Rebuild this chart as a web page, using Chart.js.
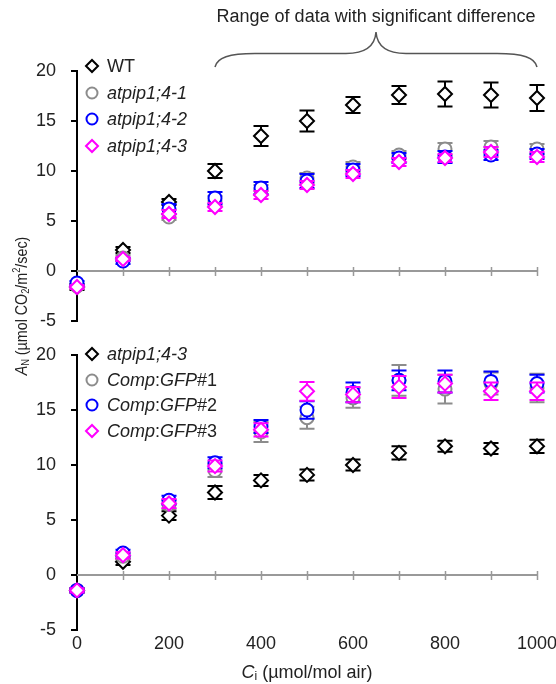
<!DOCTYPE html>
<html><head><meta charset="utf-8">
<script src="https://cdn.jsdelivr.net/npm/chart.js@4.4.1/dist/chart.umd.min.js"></script>
<style>
html,body{margin:0;padding:0;background:#fff;}
#wrap{position:relative;width:556px;height:684px;overflow:hidden;}
#wrap canvas{position:absolute;left:0;top:0;}
</style></head><body>
<div id="wrap"><canvas id="cTop"></canvas><canvas id="cBot"></canvas></div>
<script>
// ---- data ----
const ciValues = [0,100,200,300,400,500,600,700,800,900,1000];
const xTickStep = 200;
const yTickStep = 5;
const significantRange = [300, 1000];
const headerText = 'Range of data with significant difference';

const topLabels = ['WT','atpip1;4-1','atpip1;4-2','atpip1;4-3'];
const wtMean  = [-1.6,2.1,6.9,10.0,13.5,15.0,16.6,17.6,17.7,17.6,17.3];
const wtErr   = [0.3,0.3,0.3,0.7,1.0,1.05,0.8,0.9,1.25,1.25,1.3];
const l41Mean = [-1.5,1.3,5.4,7.0,8.1,9.3,10.4,11.6,12.2,12.4,12.2];
const l41Err  = [0.2,0.3,0.3,0.5,0.5,0.5,0.5,0.4,0.6,0.6,0.5];
const l42Mean = [-1.2,1.0,6.2,7.3,8.3,9.0,10.1,11.3,11.4,11.6,11.7];
const l42Err  = [0.2,0.3,0.5,0.6,0.6,0.7,0.6,0.5,0.6,0.5,0.5];
const l43Mean = [-1.6,1.2,5.7,6.4,7.6,8.6,9.7,10.9,11.3,11.9,11.4];
const l43Err  = [0.2,0.2,0.4,0.4,0.4,0.4,0.4,0.4,0.4,0.5,0.5];

const botLabels = ['atpip1;4-3','Comp:GFP#1','Comp:GFP#2','Comp:GFP#3'];
const mutMean = [-1.4,1.2,5.4,7.5,8.6,9.1,10.0,11.1,11.7,11.5,11.7];
const mutErr  = [0.2,0.3,0.4,0.6,0.5,0.5,0.5,0.6,0.5,0.5,0.6];
const c1Mean  = [-1.4,1.7,6.4,9.5,13.0,14.3,16.1,17.7,16.9,17.4,17.0];
const c1Err   = [0.2,0.3,0.4,0.6,0.9,1.0,0.9,1.4,1.3,1.0,1.3];
const c2Mean  = [-1.4,2.0,6.8,10.2,13.5,15.0,16.6,17.7,17.6,17.6,17.4];
const c2Err   = [0.2,0.3,0.4,0.5,0.6,0.8,0.9,0.9,1.0,0.9,0.8];
const c3Mean  = [-1.4,1.8,6.5,9.9,13.2,16.7,16.4,17.1,17.4,16.7,16.7];
const c3Err   = [0.2,0.3,0.4,0.5,0.6,0.85,0.7,1.0,0.8,0.8,0.8];

// ---- styles ----
const FONT = "'Liberation Sans', Arial, Helvetica, sans-serif";
const COLORS = ['#000000','#8c8c8c','#0000ff','#ff00ff'];
const STYLES = ['rectRot','circle','circle','rectRot'];
const RADII = [7,6.5,6.5,7];
const W = 556, H = 684;

function segs(label){
  if (label.startsWith('Comp:GFP')) return [['Comp',true],[':',false],['GFP',true],[label.slice(8),false]];
  if (label.startsWith('atpip')) return [[label,true]];
  return [[label,false]];
}
function drawSegs(ctx, segments, x, y, size){
  for (const [t,it] of segments){
    ctx.font = (it?'italic ':'') + size + 'px ' + FONT;
    ctx.fillText(t, x, y);
    x += ctx.measureText(t).width;
  }
  return x;
}

const errorBars = {
  id:'errorBars',
  beforeDatasetDraw(chart, args){
    const ds = chart.data.datasets[args.index];
    if (!ds.errors) return;
    const xs = chart.scales.x, ys = chart.scales.y, ctx = chart.ctx;
    ctx.save();
    ctx.strokeStyle = ds.borderColor; ctx.lineWidth = 2;
    ds.data.forEach((p,i)=>{
      const e = ds.errors[i];
      const px = xs.getPixelForValue(p.x);
      const y1 = ys.getPixelForValue(p.y+e), y2 = ys.getPixelForValue(p.y-e);
      ctx.beginPath();
      ctx.moveTo(px,y1); ctx.lineTo(px,y2);
      ctx.moveTo(px-7.5,y1); ctx.lineTo(px+7.5,y1);
      ctx.moveTo(px-7.5,y2); ctx.lineTo(px+7.5,y2);
      ctx.stroke();
    });
    ctx.restore();
  }
};

const zeroAxis = {
  id:'zeroAxis',
  beforeDatasetsDraw(chart){
    const xs = chart.scales.x, ys = chart.scales.y, ctx = chart.ctx;
    const y0 = Math.round(ys.getPixelForValue(0));
    ctx.save();
    ctx.strokeStyle = '#999'; ctx.lineWidth = 2;
    ctx.beginPath();
    ctx.moveTo(xs.getPixelForValue(ciValues[0]), y0);
    ctx.lineTo(xs.getPixelForValue(ciValues[ciValues.length-1]), y0);
    ctx.stroke();
    ctx.lineWidth = 1.5;
    ctx.beginPath();
    ciValues.forEach(v=>{
      if (v===0) return;
      const px = Math.round(xs.getPixelForValue(v))+0.5;
      ctx.moveTo(px, y0-4); ctx.lineTo(px, y0+5);
    });
    ctx.stroke();
    ctx.restore();
  }
};

function legendPlugin(labels, rowY){
  return {
    id:'customLegend',
    afterDraw(chart){
      const ctx = chart.ctx;
      ctx.save();
      labels.forEach((lab,i)=>{
        const y = rowY[i];
        ctx.strokeStyle = COLORS[i]; ctx.fillStyle = '#fff';
        Chart.helpers.drawPoint(ctx, {pointStyle: STYLES[i], radius: STYLES[i]==='circle'?5.5:6, borderWidth:2, rotation:0}, 92, y);
        ctx.fillStyle = '#222'; ctx.textBaseline = 'middle'; ctx.textAlign = 'left';
        drawSegs(ctx, segs(lab), 107, y+1, 18);
      });
      ctx.restore();
    }
  };
}

const bracePlugin = {
  id:'brace',
  afterDraw(chart){
    const xs = chart.scales.x, ctx = chart.ctx;
    const xl = xs.getPixelForValue(significantRange[0]);
    const xr = xs.getPixelForValue(significantRange[1]);
    const xm = (xl+xr)/2;
    const yb = 67, yh = 53.5, yt = 32;
    ctx.save();
    ctx.strokeStyle = '#555'; ctx.lineWidth = 1.5;
    ctx.beginPath();
    ctx.moveTo(xl, yb);
    ctx.bezierCurveTo(xl+2, yh+4, xl+14, yh, xl+40, yh);
    ctx.lineTo(xm-30, yh);
    ctx.bezierCurveTo(xm-10, yh, xm-1, yh-8, xm, yt);
    ctx.bezierCurveTo(xm+1, yh-8, xm+10, yh, xm+30, yh);
    ctx.lineTo(xr-40, yh);
    ctx.bezierCurveTo(xr-14, yh, xr-2, yh+4, xr, yb);
    ctx.stroke();
    ctx.fillStyle = '#222'; ctx.font = '18px ' + FONT;
    ctx.textAlign = 'center'; ctx.textBaseline = 'middle';
    ctx.fillText(headerText, xm, 17);
    ctx.restore();
  }
};

const titlesPlugin = {
  id:'titles',
  afterDraw(chart){
    const ctx = chart.ctx;
    ctx.save();
    ctx.fillStyle = '#222'; ctx.textBaseline = 'middle'; ctx.textAlign = 'left';
    // x title: Ci (µmol/mol air)
    const xs = chart.scales.x;
    const cx = (xs.left + xs.right)/2;
    const parts = [['C','italic 18px '],['i','12px '],[' (µmol/mol air)','18px ']];
    let tw = 0;
    parts.forEach(p=>{ ctx.font = p[1]+FONT; tw += ctx.measureText(p[0]).width; });
    let x = cx - tw/2;
    parts.forEach((p,k)=>{ ctx.font = p[1]+FONT; ctx.fillText(p[0], x, 673 + (k===1?4:0)); x += ctx.measureText(p[0]).width; });
    // y title rotated
    ctx.translate(22, 306);
    ctx.rotate(-Math.PI/2);
    ctx.scale(0.84, 1);
    const yp = [['A','italic 17px ',0],['N','11px ',4],[' (µmol CO','17px ',0],['2','11px ',4],['/m','17px ',0],['2','11px ',-5],['/sec)','17px ',0]];
    tw = 0;
    yp.forEach(p=>{ ctx.font = p[1]+FONT; tw += ctx.measureText(p[0]).width; });
    x = -tw/2;
    yp.forEach(p=>{ ctx.font = p[1]+FONT; ctx.fillText(p[0], x, p[2]); x += ctx.measureText(p[0]).width; });
    ctx.restore();
  }
};

function makeDatasets(labels, means, errs){
  return labels.map((lab,i)=>({
    label: lab,
    data: ciValues.map((x,k)=>({x, y: means[i][k]})),
    errors: errs[i],
    borderColor: COLORS[i],
    backgroundColor: '#fff',
    pointStyle: STYLES[i],
    pointRadius: RADII[i],
    pointHoverRadius: RADII[i],
    pointBorderWidth: 2,
    pointBackgroundColor: '#fff',
    pointBorderColor: COLORS[i],
    showLine: false,
    order: labels.length - 1 - i,
    clip: false
  }));
}

function yScale(){
  return {
    type:'linear', min:-5, max:20,
    ticks:{ stepSize: yTickStep, font:{family:FONT, size:18}, color:'#222', padding:15, callback: v => String(v) },
    grid:{ drawOnChartArea:false, drawTicks:true, tickLength:6, color:'#000', lineWidth:2 },
    border:{ display:true, color:'#000', width:2 },
    afterFit(s){ s.width = 77; }
  };
}

const common = {
  responsive:false, animation:false, devicePixelRatio:1,
  plugins:{ legend:{display:false}, tooltip:{enabled:false} }
};

const cTop = document.getElementById('cTop');
cTop.width = W; cTop.height = H;
new Chart(cTop, {
  type:'scatter',
  data:{ datasets: makeDatasets(topLabels, [wtMean,l41Mean,l42Mean,l43Mean], [wtErr,l41Err,l42Err,l43Err]) },
  options: Object.assign({}, common, {
    layout:{ padding:{ left:0, right:19, top:71, bottom:H-321 } },
    scales:{
      x:{ type:'linear', min:0, max:1000, display:false },
      y: yScale()
    }
  }),
  plugins:[errorBars, zeroAxis, legendPlugin(topLabels,[66,93,119,146]), bracePlugin]
});

const cBot = document.getElementById('cBot');
cBot.width = W; cBot.height = H;
new Chart(cBot, {
  type:'scatter',
  data:{ datasets: makeDatasets(botLabels, [mutMean,c1Mean,c2Mean,c3Mean], [mutErr,c1Err,c2Err,c3Err]) },
  options: Object.assign({}, common, {
    layout:{ padding:{ left:0, right:19, top:355, bottom:30 } },
    scales:{
      x:{ type:'linear', min:0, max:1000,
          ticks:{ stepSize: xTickStep, font:{family:FONT, size:18}, color:'#222', padding:3, maxRotation:0, callback: v => String(v) },
          grid:{ display:false, drawTicks:false },
          border:{ display:false },
          afterFit(s){ s.height = 24; s.paddingLeft = 0; s.paddingRight = 0; } },
      y: yScale()
    }
  }),
  plugins:[errorBars, zeroAxis, legendPlugin(botLabels,[354,380,405,431]), titlesPlugin]
});
</script>
</body></html>
